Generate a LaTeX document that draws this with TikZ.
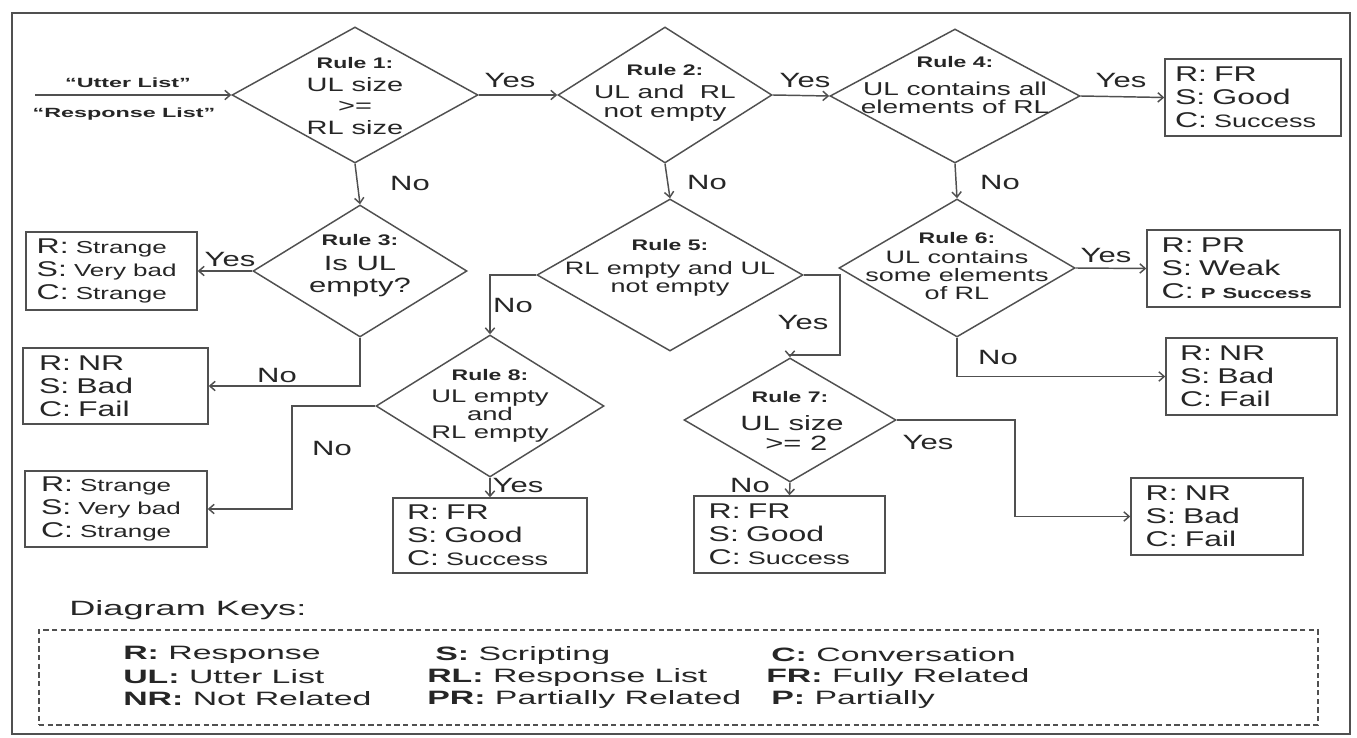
\documentclass[tikz,border=0pt]{standalone}
\usepackage{fontspec}
\setmainfont{Liberation Sans}[FakeStretch=1.5]
\newfontfamily\widefont{Liberation Sans}[FakeStretch=1.75]
\usetikzlibrary{shapes.geometric,arrows.meta,calc}
\definecolor{ln}{HTML}{505050}
\definecolor{tx}{HTML}{262626}
\newcommand\smtxt[1]{{\fontsize{13}{17.3}\selectfont #1}}
\newcommand\sctxt[1]{{\fontsize{13.5}{17.3}\selectfont #1}}
\begin{document}
\begin{tikzpicture}[x=0.75pt,y=-0.75pt,
  every node/.style={text=tx},
  dia/.style={diamond, draw=ln, line width=1.1pt, inner sep=0pt},
  box/.style={draw=ln, line width=1.1pt, inner ysep=0pt, align=left, font=\fontsize{16}{17.3}\selectfont},
  rulel/.style={font=\bfseries\fontsize{11.5}{13}\selectfont, inner sep=0pt},
  body/.style={align=center, inner sep=0pt},
  yn/.style={font=\fontsize{15.5}{17}\selectfont, inner sep=0pt},
  keyt/.style={font=\widefont\fontsize{14.5}{16}\selectfont, inner sep=0pt, anchor=west},
  conn/.style={draw=ln, line width=1.1pt, -{Straight Barb[length=4pt,width=7pt]}},
]
\fill[white] (0,0) rectangle (1357,738);
\useasboundingbox (0,0) rectangle (1357,738);
\draw[ln, line width=1.8pt] (12,13) rectangle (1350,734);

% diamonds
\node[dia, minimum width=184.5pt, minimum height=102pt] (r1) at (355,95) {};
\node[dia, minimum width=160.5pt, minimum height=102pt] (r2) at (665,95) {};
\node[dia, minimum width=187.5pt, minimum height=100.5pt] (r4) at (955,96) {};
\node[dia, minimum width=160.5pt, minimum height=99pt] (r3) at (360,271) {};
\node[dia, minimum width=199.5pt, minimum height=114pt] (r5) at (670,275) {};
\node[dia, minimum width=177pt, minimum height=103.5pt] (r6) at (957,268) {};
\node[dia, minimum width=171pt, minimum height=106.5pt] (r8) at (490,406) {};
\node[dia, minimum width=159pt, minimum height=93pt] (r7) at (790,420) {};

% diamond texts
\node[rulel] (l1) at (355,63) {Rule 1:};
\node[body, font=\fontsize{14.5}{16.1}\selectfont] (t1) at (355,106) {UL size\\>=\\RL size};
\node[rulel] (l2) at (665,70) {Rule 2:};
\node[body, font=\fontsize{14}{14.5}\selectfont] (t2) at (665,103) {UL and~ RL\\not empty};
\node[rulel] (l4) at (955,62) {Rule 4:};
\node[body, font=\fontsize{14}{13.6}\selectfont] (t4) at (955,98) {UL contains all\\elements of RL};
\node[rulel] (l3) at (360,240) {Rule 3:};
\node[body, font=\fontsize{15.5}{16.5}\selectfont] (t3) at (360,277) {Is UL\\empty?};
\node[rulel] (l5) at (670,245) {Rule 5:};
\node[body, font=\fontsize{13.5}{13.5}\selectfont] (t5) at (670,279) {RL empty and UL\\not empty};
\node[rulel] (l6) at (957,238) {Rule 6:};
\node[body, font=\fontsize{13.5}{13.5}\selectfont] (t6) at (957,275) {UL contains\\some elements\\of RL};
\node[rulel] (l8) at (490,375) {Rule 8:};
\node[body, font=\fontsize{13.7}{13.5}\selectfont] (t8) at (490,416) {UL empty\\and\\RL empty};
\node[rulel] (l7) at (790,397) {Rule 7:};
\node[body, font=\fontsize{15.5}{15}\selectfont] (t7) at (792,433) {UL size\\~>= 2};

% result boxes
\node[box, minimum width=132pt, text width=117pt, inner xsep=7.5pt, minimum height=57.75pt] (b1) at (1253,97.5) {R: FR\\S: Good\\C: \sctxt{Success}};
\node[box, minimum width=128.25pt, text width=112.25pt, inner xsep=8pt, minimum height=58.5pt] (b2) at (111.5,271) {R: \smtxt{Strange}\\S: \smtxt{Very bad}\\C: \smtxt{Strange}};
\node[box, minimum width=138.75pt, text width=114.75pt, inner xsep=12pt, minimum height=57pt] (b3) at (115.5,386) {R: NR\\S: Bad\\C: Fail};
\node[box, minimum width=144.75pt, text width=122.75pt, inner xsep=11pt, minimum height=57.75pt] (b4) at (1243.5,268.5) {R: PR\\S: Weak\\C: {\bfseries\fontsize{11}{17.3}\selectfont P Success}};
\node[box, minimum width=128.25pt, text width=107.25pt, inner xsep=10.5pt, minimum height=57.75pt] (b5) at (1251.5,376.5) {R: NR\\S: Bad\\C: Fail};
\node[box, minimum width=136.5pt, text width=112.5pt, inner xsep=12pt, minimum height=57pt] (b6) at (116,509) {R: \smtxt{Strange}\\S: \smtxt{Very bad}\\C: \smtxt{Strange}};
\node[box, minimum width=145.5pt, text width=124.5pt, inner xsep=10.5pt, minimum height=56.25pt] (b7) at (490,535.5) {R: FR\\S: Good\\C: \sctxt{Success}};
\node[box, minimum width=143.25pt, text width=121.25pt, inner xsep=11pt, minimum height=57.75pt] (b8) at (789.5,534.5) {R: FR\\S: Good\\C: \sctxt{Success}};
\node[box, minimum width=129pt, text width=107pt, inner xsep=11pt, minimum height=57.75pt] (b9) at (1217,516.5) {R: NR\\S: Bad\\C: Fail};

% input
\coordinate (in0) at (35,95);
\node[inner sep=0pt, font=\widefont\bfseries\fontsize{10}{12}\selectfont] (ul) at (128,83) {“Utter List”};
\node[inner sep=0pt, font=\widefont\bfseries\fontsize{10}{12}\selectfont] (rl) at (124,114) {“Response List”};
\draw[conn] (in0) -- (r1.west);

% helper corners
\coordinate (c57) at (840,355);
\coordinate (c86) at (292,509);
\coordinate (c79) at (1015,516.5);

% connectors
\draw[conn] (r1.east) -- (r2.west);
\draw[conn] (r2.east) -- (r4.west);
\draw[conn] (r4.east) -- (b1.west);
\draw[conn] (r1.south) -- (r3.north);
\draw[conn] (r2.south) -- (r5.north);
\draw[conn] (r4.south) -- (r6.north);
\draw[conn] (r3.west) -- (b2.east);
\draw[conn] (r3.south) |- (b3.east);
\draw[conn] (r5.west) -| (r8.north);
\draw[conn] (r5.east) -| (c57) -| (r7.north);
\draw[conn] (r6.east) -- (b4.west);
\draw[conn] (r6.south) |- (b5.west);
\draw[conn] (r8.west) -| (c86) -- (b6.east);
\draw[conn] (r8.south) -- (b7.north);
\draw[conn] (r7.south) -- (b8.north);
\draw[conn] (r7.east) -| (c79) -- (b9.west);

% yes / no labels
\node[yn] (y12) at (510,80) {Yes};
\node[yn] (y24) at (805,80) {Yes};
\node[yn] (y4b) at (1121,80) {Yes};
\node[yn] (n13) at (410,183) {No};
\node[yn] (n25) at (707,182) {No};
\node[yn] (n46) at (1000,182) {No};
\node[yn] (y3b) at (230,259) {Yes};
\node[yn] (n3b) at (277,375) {No};
\node[yn] (n58) at (513,305) {No};
\node[yn] (y57) at (803,322) {Yes};
\node[yn] (y6b) at (1106,255) {Yes};
\node[yn] (n6b) at (998,357) {No};
\node[yn] (n8b) at (332,448) {No};
\node[yn] (y8b) at (518,485) {Yes};
\node[yn] (n7b) at (750,485) {No};
\node[yn] (y7b) at (928,442) {Yes};

% keys
\node[inner sep=0pt, anchor=west, font=\widefont\fontsize{15.5}{17}\selectfont] (dk) at (69,610) {Diagram Keys:};
\node[draw=ln, dash pattern=on 4pt off 2.5pt, line width=0.9pt, minimum width=959.25pt, minimum height=71.25pt, inner sep=0pt] (keybox) at (678.5,677.5) {};
\node[keyt] (k1) at (123,655) {\textbf{R:} Response};
\node[keyt] (k2) at (435,655) {\textbf{S:} Scripting};
\node[keyt] (k3) at (771,655) {\textbf{C:} Conversation};
\node[keyt] (k4) at (123,677) {\textbf{UL:} Utter List};
\node[keyt] (k5) at (427,677) {\textbf{RL:} Response List};
\node[keyt] (k6) at (766,677) {\textbf{FR:} Fully Related};
\node[keyt] (k7) at (123,699) {\textbf{NR:} Not Related};
\node[keyt] (k8) at (427,699) {\textbf{PR:} Partially Related};
\node[keyt] (k9) at (771,699) {\textbf{P:} Partially};
\end{tikzpicture}
\end{document}
